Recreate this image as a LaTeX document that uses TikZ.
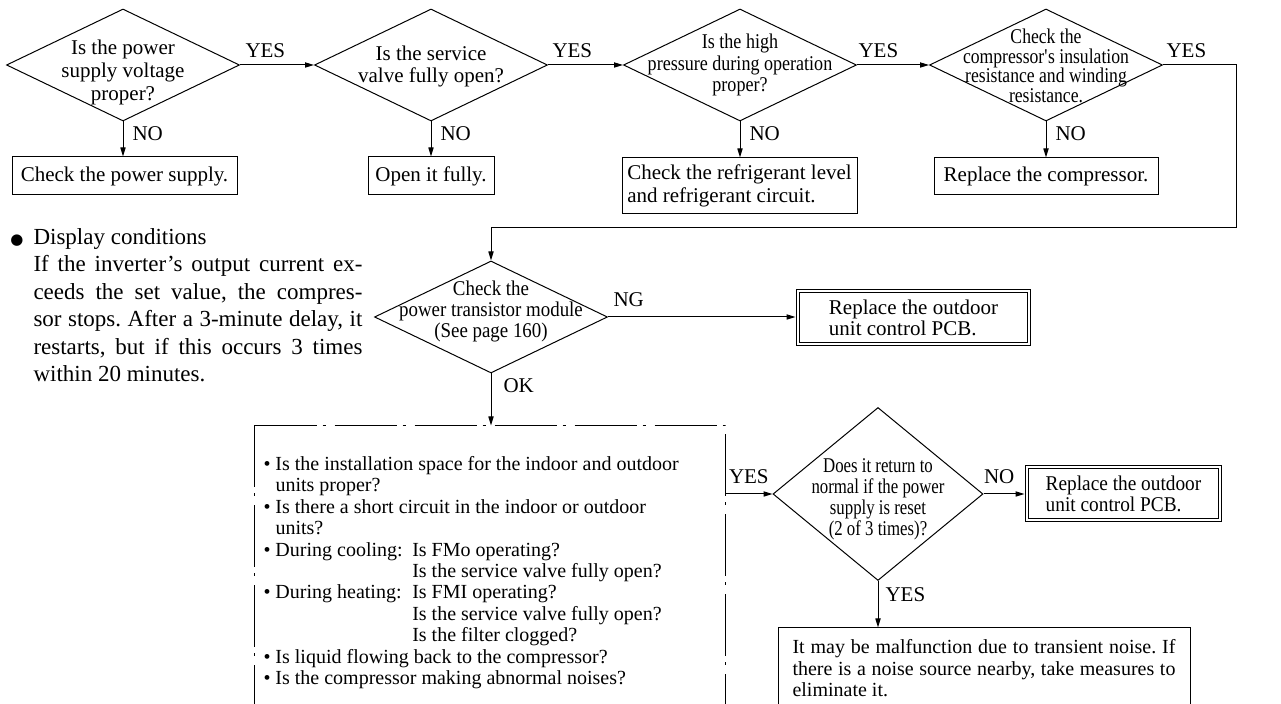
\documentclass[tikz,border=0pt]{standalone}
\usepackage{fontspec}
\setmainfont{Liberation Serif}
\newfontfamily\condA[FakeStretch=0.86]{Liberation Serif}
\newfontfamily\condB[FakeStretch=0.84]{Liberation Serif}
\newfontfamily\condC[FakeStretch=0.90]{Liberation Serif}
\newfontfamily\condD[FakeStretch=0.80]{Liberation Serif}
\newfontfamily\condE[FakeStretch=0.92]{Liberation Serif}
\newfontfamily\dejavu{DejaVu Sans}
\usetikzlibrary{shapes.geometric,arrows.meta,calc}
\newcommand\dbul{\makebox[6pt][l]{\textbullet}}
\frenchspacing
\begin{document}
\begin{tikzpicture}[x=0.5pt,y=-0.5pt, line width=0.5pt,
  every node/.style={font=\fontsize{10.5}{11.5}\selectfont},
  dia/.style={draw, diamond, inner sep=0pt, minimum width=116.5pt, minimum height=56pt},
  dtext/.style={align=center, inner sep=0pt},
  box/.style={draw, rectangle, inner sep=0pt},
  dbox/.style={box, double, double distance=1pt},
  arr/.style={-{Triangle[length=4.5pt,width=2.6pt]}},
  lbl/.style={inner sep=0pt, font=\fontsize{10.5}{11}\selectfont},
  dashdot/.style={dash pattern=on 31pt off 3pt on 1.5pt off 4.5pt},
]
\useasboundingbox (0,0) rectangle (1281,704);
\clip (0,0) rectangle (1281,704);

% ---- top row diamonds
\node[dia] (d1) at (123,65) {};
\node[dtext] (t1) at (123,72) {Is the power\\supply voltage\\proper?};
\node[dia] (d2) at (431,65) {};
\node[dtext, font=\fontsize{10.5}{11}\selectfont] (t2) at (431,66) {Is the service\\valve fully open?};
\node[dia] (d3) at (740,65) {};
\node[dtext, font=\condA\fontsize{10.5}{10.75}\selectfont] (t3) at (740,65) {Is the high\\pressure during operation\\proper?};
\node[dia] (d4) at (1046,65) {};
\node[dtext, font=\condB\fontsize{10.5}{9.75}\selectfont] (t4) at (1046,66) {Check the\\compressor\textquotesingle s insulation\\resistance and winding\\resistance.};

% ---- top row boxes
\node[box, minimum width=112.5pt, minimum height=19pt] (b1) at (124.5,176) {Check the power supply.};
\node[box, minimum width=63pt, minimum height=19pt] (b2) at (431,176) {Open it fully.};
\node[box, minimum width=117.5pt, minimum height=28pt, align=left] (b3) at (739.5,186) {Check the refrigerant level\\and refrigerant circuit.};
\node[box, minimum width=112pt, minimum height=18.5pt] (b4) at (1046,176.5) {Replace the compressor.};

% ---- middle
\node[dia] (d5) at (491,317) {};
\node[dtext, font=\condC\fontsize{10.5}{10.5}\selectfont] (t5) at (491,311) {Check the\\power transistor module\\(See page 160)};
\node[dbox, minimum width=115.5pt, minimum height=26.5pt, align=left, font=\fontsize{10.5}{10.5}\selectfont] (b5) at (913.5,317.5) {Replace the outdoor\\unit control PCB.};

% ---- dashed box
\node[minimum width=235pt, minimum height=152pt, inner sep=0pt] (db) at (490,578) {};
\draw[dashdot] (db.north west) -- (db.north east) -- (db.south east);
\draw[dashdot] (db.north west) -- (db.south west);
\node[anchor=north west, align=left, inner sep=0pt, font=\fontsize{10}{10.7}\selectfont] (dt) at (263,456) {%
\dbul Is the installation space for the indoor and outdoor\\
\hspace*{6pt}units proper?\\
\dbul Is there a short circuit in the indoor or outdoor\\
\hspace*{6pt}units?\\
\dbul\makebox[68.4pt][l]{During cooling:}Is FMo operating?\\
\hspace*{74.4pt}Is the service valve fully open?\\
\dbul\makebox[68.4pt][l]{During heating:}Is FMI operating?\\
\hspace*{74.4pt}Is the service valve fully open?\\
\hspace*{74.4pt}Is the filter clogged?\\
\dbul Is liquid flowing back to the compressor?\\
\dbul Is the compressor making abnormal noises?};

% ---- right lower
\node[draw, diamond, inner sep=0pt, minimum width=105pt, minimum height=86.5pt] (d6) at (878,494) {};
\node[dtext, font=\condD\fontsize{10.5}{10.5}\selectfont] (t6) at (878,499) {Does it return to\\normal if the power\\supply is reset\\(2 of 3 times)?};
\node[dbox, minimum width=96.5pt, minimum height=26.5pt, align=left, font=\condE\fontsize{10.5}{10.5}\selectfont] (b6) at (1123.5,493.5) {Replace the outdoor\\unit control PCB.};
\node[box, minimum width=206pt, minimum height=46pt] (b7) at (984,674) {};
\node[anchor=north west, inner sep=0pt, text width=191.5pt, align=justify, font=\fontsize{10}{10.75}\selectfont] (t7) at (792,639) {It may be malfunction due to transient noise. If\linebreak there is a noise source nearby, take measures to\linebreak eliminate it.};

% ---- left paragraph
\node[anchor=north west, inner sep=0pt, text width=164.5pt, align=justify, font=\fontsize{11.5}{13.7}\selectfont] (para) at (33,228) {%
\llap{{\dejavu\fontsize{7.5}{7.5}\selectfont ●}\hspace{5pt}}Display conditions\\
If the inverter's output current ex-\linebreak
ceeds the set value, the compres-\linebreak
sor stops. After a 3-minute delay, it\linebreak
restarts, but if this occurs 3 times\linebreak
within 20 minutes.};

% ---- connectors
\draw[arr] (d1.east) node[lbl, anchor=south west, xshift=2.5pt, yshift=3.5pt] {YES} -- (d2.west);
\draw[arr] (d2.east) node[lbl, anchor=south west, xshift=2pt, yshift=3.5pt] {YES} -- (d3.west);
\draw[arr] (d3.east) node[lbl, anchor=south west, xshift=0.5pt, yshift=3.5pt] {YES} -- (d4.west);
\coordinate (turn) at (1236,228);
\draw[arr] (d4.east) node[lbl, anchor=south west, xshift=1.5pt, yshift=3.5pt] {YES} -| (turn) -| (d5.north);

\draw[arr] (d1.south) node[lbl, anchor=north west, xshift=4.5pt, yshift=-2.5pt] {NO} -- (d1.south |- b1.north);
\draw[arr] (d2.south) node[lbl, anchor=north west, xshift=4.5pt, yshift=-2.5pt] {NO} -- (d2.south |- b2.north);
\draw[arr] (d3.south) node[lbl, anchor=north west, xshift=4.5pt, yshift=-2.5pt] {NO} -- (d3.south |- b3.north);
\draw[arr] (d4.south) node[lbl, anchor=north west, xshift=4.5pt, yshift=-2.5pt] {NO} -- (d4.south |- b4.north);

\draw[arr, shorten >=1pt] (d5.east) node[lbl, anchor=south west, xshift=2.5pt, yshift=5pt] {NG} -- (d5.east -| b5.west);
\draw[arr] (d5.south) node[lbl, anchor=north west, xshift=6pt, yshift=-2.5pt] {OK} -- (d5.south |- db.north);
\draw[arr] (db.east |- d6.west) node[lbl, anchor=south west, xshift=1.5pt, yshift=5pt] {YES} -- (d6.west);
\draw[arr, shorten >=1pt] (d6.east) node[lbl, anchor=south west, yshift=5pt] {NO} -- (d6.east -| b6.west);
\draw[arr] (d6.south) node[lbl, anchor=north west, xshift=3.5pt, yshift=-3pt] {YES} -- (d6.south |- b7.north);
\end{tikzpicture}
\end{document}
